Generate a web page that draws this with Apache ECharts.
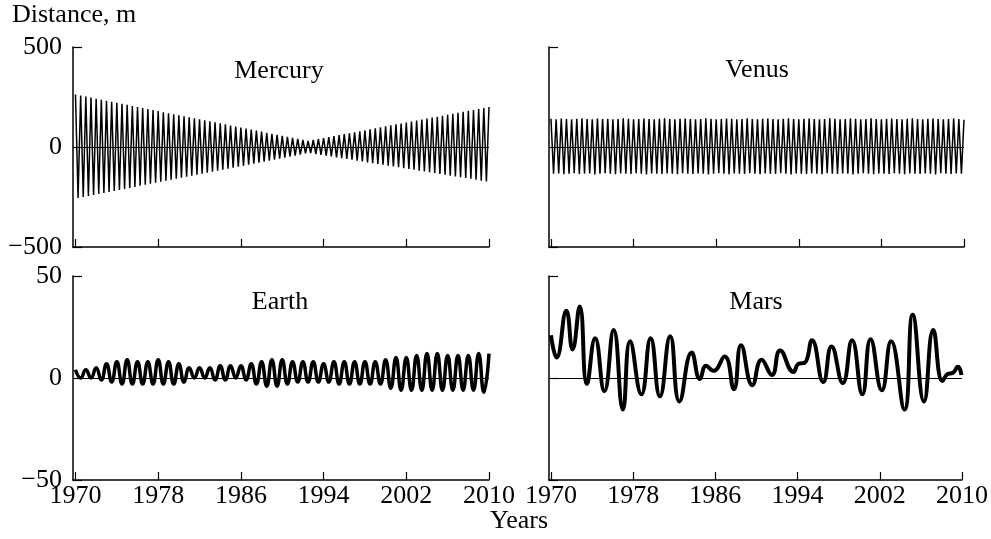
<!DOCTYPE html>
<html>
<head>
<meta charset="utf-8">
<script src="https://cdn.jsdelivr.net/npm/echarts@6/dist/echarts.min.js"></script>
<style>
  html, body { margin: 0; padding: 0; background: #fff; }
  #main { width: 991px; height: 539px; }
</style>
</head>
<body>
<div id="main"></div>
<script>
// tick years shown on every x axis
const yearTicks = [1970, 1978, 1986, 1994, 2002, 2010]

// Mercury: upper turning points every 0.5 yr from 1970.0, lower ones from 1970.25 (m)
const mercuryUpper = [
  262, 257, 252, 247, 241, 236, 231, 226, 221, 216,
  211, 205, 200, 195, 190, 185, 180, 174, 169, 164,
  159, 154, 149, 144, 138, 133, 128, 123, 118, 113,
  107, 102, 97, 92, 87, 82, 77, 71, 66, 61,
  56, 51, 46, 41, 35, 30, 35, 40, 45, 49,
  54, 59, 64, 69, 74, 79, 83, 88, 93, 98,
  103, 108, 113, 117, 122, 127, 132, 137, 142, 147,
  151, 156, 161, 166, 171, 176, 181, 185, 190, 195,
  200
]
const mercuryLower = [
  -255, -250, -245, -240, -235, -230, -225, -220, -215, -210,
  -205, -200, -194, -189, -184, -179, -174, -169, -164, -159,
  -154, -149, -144, -139, -134, -129, -124, -119, -113, -108,
  -103, -98, -93, -88, -83, -78, -73, -68, -63, -58,
  -53, -48, -43, -38, -32, -31, -35, -39, -43, -47,
  -52, -56, -60, -64, -68, -72, -77, -81, -85, -89,
  -93, -97, -101, -106, -110, -114, -118, -122, -126, -130,
  -135, -139, -143, -147, -151, -155, -159, -164, -168, -172
]

// Venus: same sampling as Mercury (m)
const venusUpper = [
  141, 139, 142, 140, 138, 141, 143, 140, 139, 142,
  140, 141, 138, 140, 143, 141, 139, 140, 142, 140,
  138, 141, 143, 140, 139, 141, 142, 140, 138, 140,
  143, 141, 139, 140, 142, 141, 138, 140, 143, 140,
  139, 141, 142, 140, 138, 141, 143, 140, 139, 141,
  142, 140, 138, 140, 143, 141, 139, 140, 142, 141,
  138, 140, 143, 140, 139, 141, 142, 140, 138, 141,
  143, 140, 139, 141, 142, 140, 138, 140, 142, 140,
  136
]
const venusLower = [
  -134, -132, -136, -133, -131, -135, -134, -132, -137, -133,
  -131, -134, -136, -132, -133, -135, -131, -134, -137, -132,
  -133, -135, -132, -134, -136, -131, -133, -135, -132, -134,
  -137, -133, -131, -134, -136, -132, -133, -135, -131, -134,
  -136, -132, -134, -135, -131, -133, -137, -132, -134, -135,
  -132, -134, -136, -131, -133, -135, -132, -134, -137, -133,
  -131, -134, -136, -132, -133, -135, -131, -134, -136, -132,
  -133, -135, -132, -134, -137, -131, -133, -135, -132, -134
]

// Earth: yearly maxima at whole years, minima at half years (m)
const earthPeaks = [
  4, 4, 5, 7, 8, 9, 8, 8, 9, 8,
  7, 5, 5, 5, 6, 6, 6, 7, 8, 9,
  9, 8, 8, 8, 7, 8, 8, 8, 8, 8,
  9, 10, 10, 11, 12, 12, 11, 11, 11, 12,
  12
]
const earthTroughs = [
  0, 0, -1, -2, -3, -3, -3, -3, -3, -3,
  -2, 0, 0, -1, -1, 0, -1, -3, -4, -4,
  -3, -2, -2, -2, -2, -3, -3, -3, -3, -3,
  -5, -6, -6, -6, -6, -6, -6, -6, -6, -7
]

// Mars: turning points
const marsYears = [
  1970.0, 1970.55, 1971.5, 1972.1, 1972.8, 1973.5, 1974.3, 1975.2, 1976.1, 1977.0,
  1977.7, 1978.8, 1979.7, 1980.6, 1981.6, 1982.5, 1983.7, 1984.5, 1985.1, 1985.8,
  1986.9, 1987.8, 1988.5, 1989.6, 1990.5, 1991.5, 1992.3, 1993.6, 1994.1, 1994.7,
  1995.4, 1996.5, 1997.3, 1998.4, 1999.3, 2000.3, 2001.1, 2002.2, 2003.1, 2004.4,
  2005.2, 2006.3, 2007.2, 2008.1, 2008.6, 2009.1, 2009.6, 2009.95
]
const marsValues = [
  21, 10, 33, 14, 35, -3, 19.5, -6.5, 23.5, -15.5,
  18, -8, 19.5, -9, 20.5, -11.5, 12.5, -0.5, 6, 3.5,
  10.5, -5.5, 16, -3.5, 9, 1.5, 13.5, 3, 7, 7.5,
  18.5, -2, 15.5, -2.5, 18.5, -8, 19, -6, 18, -15.5,
  31, -11.5, 23.5, -1.5, 2, 2.5, 5.5, 1.5
]

// interleave turning points into one polyline
function alternate(start, step, highs, lows) {
  const pts = []
  for (let i = 0; i < highs.length; i++) {
    pts.push([start + i * 2 * step, highs[i]])
    if (i < lows.length) pts.push([start + (2 * i + 1) * step, lows[i]])
  }
  return pts
}

const font = 'Liberation Serif, Times New Roman, serif'
const minus = v => String(v).replace('-', '\u2212')

function xAx(grid, min, labels) {
  return {
    type: 'value', gridIndex: grid, min: min, max: 2010,
    axisLine: { onZero: false, lineStyle: { color: '#000', width: 1.5 } },
    axisTick: { inside: true, length: 8, customValues: yearTicks, lineStyle: { color: '#000', width: 1.2 } },
    axisLabel: {
      show: labels, customValues: yearTicks, margin: 3, color: '#000',
      fontFamily: font, fontSize: 26, formatter: v => String(v)
    },
    splitLine: { show: false }
  }
}
function yAx(grid, lim, labels) {
  return {
    type: 'value', gridIndex: grid, min: -lim, max: lim, interval: lim,
    axisLine: { show: true, onZero: false, lineStyle: { color: '#000', width: 1.5 } },
    axisTick: { show: true, inside: true, length: 9, lineStyle: { color: '#000', width: 1.2 } },
    axisLabel: { show: labels, margin: 11, color: '#000', fontFamily: font, fontSize: 26, formatter: minus },
    splitLine: { show: false }
  }
}
const zeroLine = {
  silent: true, symbol: ['none', 'none'], label: { show: false },
  lineStyle: { color: '#000', width: 1, type: 'solid' },
  data: [{ yAxis: 0 }]
}

function txt(x, y, s, align) {
  return {
    type: 'text', x: x, y: y,
    style: { text: s, font: '26px ' + font, fill: '#000', textAlign: align || 'center', textVerticalAlign: 'middle' }
  }
}

const chart = echarts.init(document.getElementById('main'))
chart.setOption({
  animation: false,
  grid: [
    { left: 73, top: 47, width: 416, height: 200 },
    { left: 549, top: 47, width: 415, height: 200 },
    { left: 73, top: 276, width: 416, height: 204 },
    { left: 549, top: 276, width: 415, height: 204 }
  ],
  xAxis: [xAx(0, 1969.76, false), xAx(1, 1969.81, false), xAx(2, 1969.76, true), xAx(3, 1969.81, true)],
  yAxis: [yAx(0, 500, true), yAx(1, 500, false), yAx(2, 50, true), yAx(3, 50, false)],
  graphic: [
    txt(12, 15, 'Distance, m', 'left'),
    txt(279, 71, 'Mercury'),
    txt(757, 70, 'Venus'),
    txt(280, 302, 'Earth'),
    txt(756, 302, 'Mars'),
    txt(519, 521, 'Years')
  ],
  series: [
    {
      type: 'line', xAxisIndex: 0, yAxisIndex: 0, showSymbol: false,
      data: alternate(1970, 0.25, mercuryUpper, mercuryLower),
      lineStyle: { color: '#000', width: 1.5 }, markLine: zeroLine
    },
    {
      type: 'line', xAxisIndex: 1, yAxisIndex: 1, showSymbol: false,
      data: alternate(1970, 0.25, venusUpper, venusLower),
      lineStyle: { color: '#000', width: 1.5 }, markLine: zeroLine
    },
    {
      type: 'line', xAxisIndex: 2, yAxisIndex: 2, showSymbol: false, smooth: true,
      data: alternate(1970, 0.5, earthPeaks, earthTroughs),
      lineStyle: { color: '#000', width: 3.5 }, markLine: zeroLine
    },
    {
      type: 'line', xAxisIndex: 3, yAxisIndex: 3, showSymbol: false, smooth: true,
      data: marsYears.map((y, i) => [y, marsValues[i]]),
      lineStyle: { color: '#000', width: 4 }, markLine: zeroLine
    }
  ]
})
</script>
</body>
</html>
